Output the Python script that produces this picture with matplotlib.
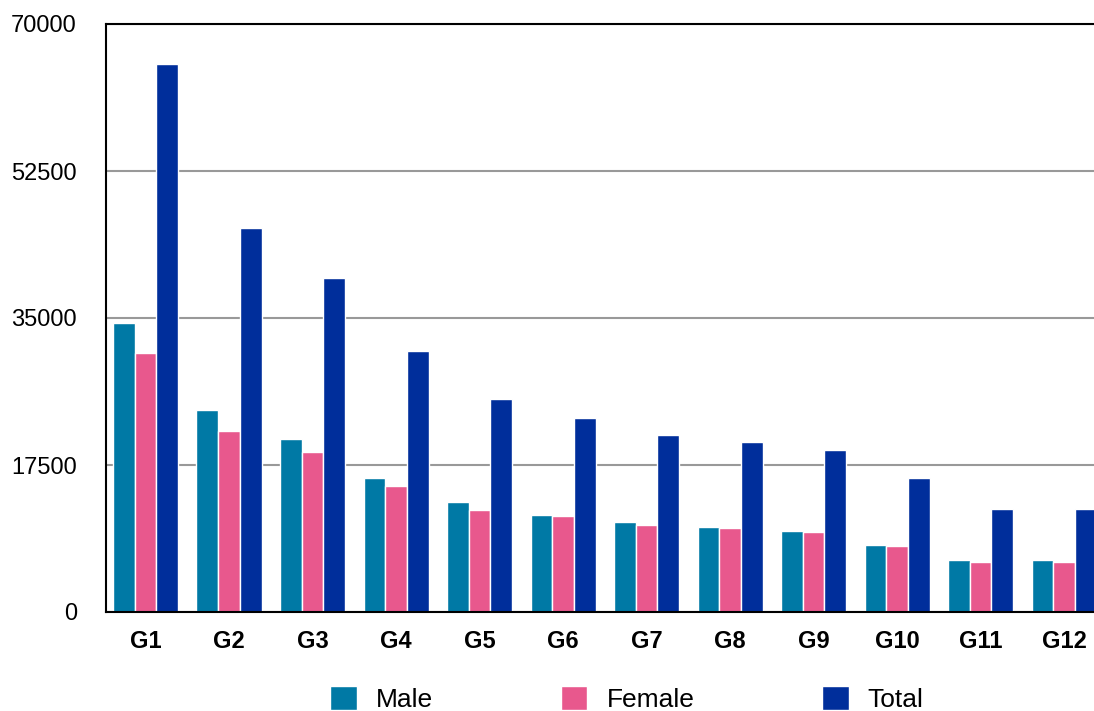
import numpy as np
import matplotlib
matplotlib.use('Agg')
import matplotlib.pyplot as plt

plt.rcParams['font.family'] = ['Liberation Sans', 'DejaVu Sans']

# data
groups = ['G1', 'G2', 'G3', 'G4', 'G5', 'G6', 'G7', 'G8', 'G9', 'G10', 'G11', 'G12']
male = [34400, 24000, 20600, 15950, 13100, 11550, 10700, 10100, 9650, 7980, 6200, 6200]
female = [30800, 21550, 19050, 15000, 12150, 11450, 10350, 10000, 9520, 7860, 5950, 5950]
total = [65200, 45700, 39750, 31050, 25350, 23100, 21050, 20250, 19300, 15950, 12250, 12250]
series_names = ['Male', 'Female', 'Total']
colors = ['#0079A5', '#E8588D', '#002E9B']
yticks = [0, 17500, 35000, 52500, 70000]

fig = plt.figure(figsize=(10.94, 7.11), dpi=100)
ax = fig.add_axes([106 / 1094, 1 - 612 / 711, 1 - 106 / 1094, (612 - 24) / 711])

x = np.arange(len(groups))
w = 0.2595
for i, (vals, name, c) in enumerate(zip([male, female, total], series_names, colors)):
    ax.bar(x + (i - 1) * w, vals, width=w, color=c, edgecolor='white',
           linewidth=1.0, label=name, zorder=3)

ax.set_xlim(-0.473, 11.359)
ax.set_ylim(0, 70000)
ax.set_yticks(yticks)
ax.set_yticklabels([str(v) for v in yticks], fontsize=17)
ax.set_xticks(x)
ax.set_xticklabels(groups, fontsize=17, fontweight='bold')
ax.tick_params(axis='both', length=0)
ax.tick_params(axis='y', pad=21)
ax.tick_params(axis='x', pad=13)

ax.grid(axis='y', color='#999999', linewidth=1.5, zorder=0)
for s in ['left', 'bottom', 'top']:
    ax.spines[s].set_color('black')
    ax.spines[s].set_linewidth(1.5)
    ax.spines[s].set_zorder(4)
ax.spines['right'].set_visible(False)

fig.legend(loc='center', bbox_to_anchor=(627 / 1094, 1 - 699 / 711), ncol=3,
           frameon=False, fontsize=19, handlelength=1.0, handleheight=1.0,
           handletextpad=0.72, columnspacing=4.85, borderpad=0.1)

fig.savefig('out.png', dpi=100)
